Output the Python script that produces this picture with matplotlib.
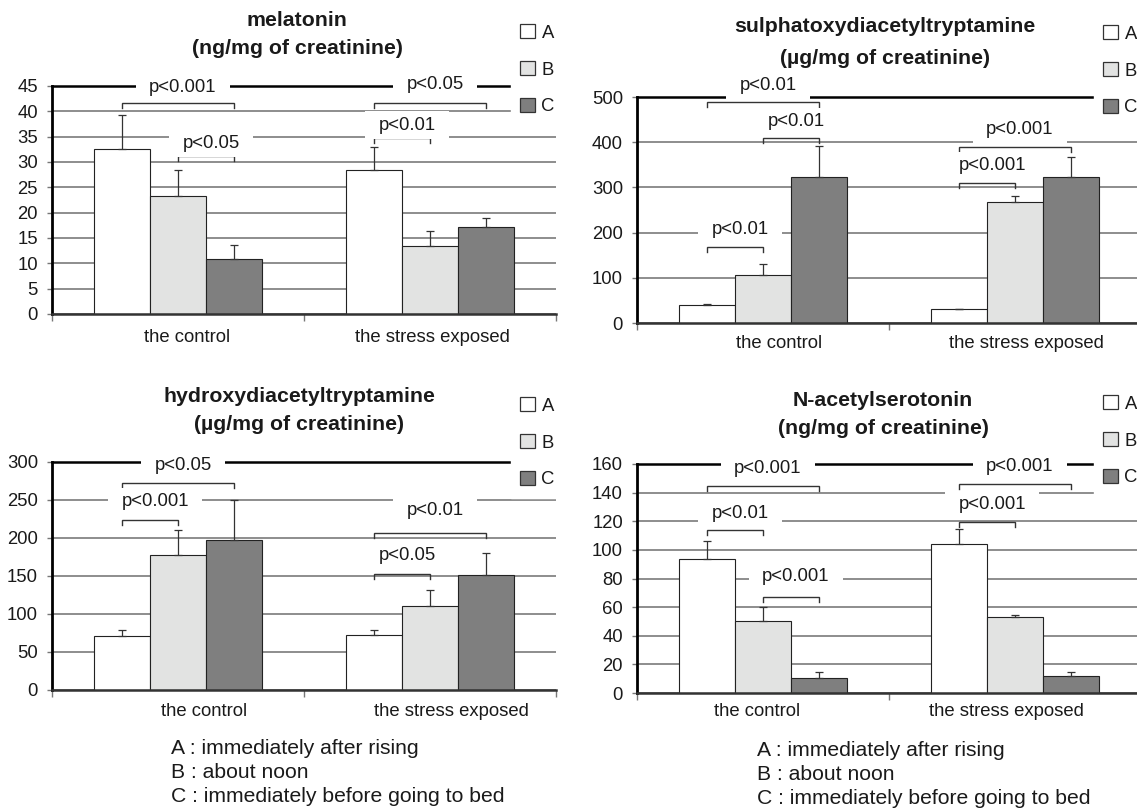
import matplotlib
matplotlib.use('Agg')
import matplotlib.pyplot as plt
from matplotlib.patches import Patch
from matplotlib.path import Path
import numpy as np

plt.rcParams['font.family'] = ['Liberation Sans', 'DejaVu Sans']

W, H = 1137, 809
DPI = 100

# ---------------- data ----------------
groups = ['the control', 'the stress exposed']
series = ['A', 'B', 'C']
series_colors = ['#ffffff', '#e2e3e2', '#7f7f7f']

mel_A = [32.5, 28.5]
mel_A_err = [6.7, 4.5]
mel_B = [23.3, 13.4]
mel_B_err = [5.2, 2.9]
mel_C = [10.8, 17.1]
mel_C_err = [2.9, 1.9]
mel_ticks = [0, 5, 10, 15, 20, 25, 30, 35, 40, 45]

sul_A = [39, 30]
sul_A_err = [3, 1]
sul_B = [107, 268]
sul_B_err = [24, 13]
sul_C = [322, 322]
sul_C_err = [70, 46]
sul_ticks = [0, 100, 200, 300, 400, 500]

hyd_A = [70.5, 72]
hyd_A_err = [8.5, 7]
hyd_B = [178, 111]
hyd_B_err = [33, 21]
hyd_C = [198, 151]
hyd_C_err = [52, 29]
hyd_ticks = [0, 50, 100, 150, 200, 250, 300]

nac_A = [93.4, 104.4]
nac_A_err = [13, 10]
nac_B = [50, 53.3]
nac_B_err = [10, 1.4]
nac_C = [10.7, 11.7]
nac_C_err = [4, 3]
nac_ticks = [0, 20, 40, 60, 80, 100, 120, 140, 160]

# significance annotations: (group, from bar, to bar, bracket level, label, label level)
mel_sig = [(0, 0, 2, 41.7, 'p<0.001', 44.8), (0, 1, 2, 31.1, 'p<0.05', 33.7),
           (1, 0, 2, 41.7, 'p<0.05', 45.3), (1, 0, 1, 34.7, 'p<0.01', 37.3)]
sul_sig = [(0, 0, 2, 489, 'p<0.01', 526), (0, 1, 2, 410, 'p<0.01', 445),
           (0, 0, 1, 169, 'p<0.01', 206), (1, 0, 2, 390, 'p<0.001', 428),
           (1, 0, 1, 310, 'p<0.001', 348)]
hyd_sig = [(0, 0, 2, 272.4, 'p<0.05', 295.6), (0, 0, 1, 224, 'p<0.001', 247.5),
           (1, 0, 2, 206.7, 'p<0.01', 235.7), (1, 0, 1, 153, 'p<0.05', 177)]
nac_sig = [(0, 0, 2, 144.4, 'p<0.001', 157.2), (0, 0, 1, 114, 'p<0.01', 125.7),
           (0, 1, 2, 67.3, 'p<0.001', 81.3), (1, 0, 2, 146.2, 'p<0.001', 158),
           (1, 0, 1, 119.8, 'p<0.001', 131.5)]

footnote = ['A : immediately after rising', 'B : about noon',
            'C : immediately before going to bed']

# ---------------- layout ----------------
FS = 13.3
TFS = 15.3
NFS = 15.2
TXT = '#1a1a1a'
BAR_W = 0.222

panels = [
    dict(rect=(52, 86, 556, 314), title=('melatonin', '(ng/mg of creatinine)'),
         title_xy=(297, 20, 48), vals=(mel_A, mel_B, mel_C),
         errs=(mel_A_err, mel_B_err, mel_C_err), ticks=mel_ticks, sig=mel_sig,
         legend_xy=(511, 15), lab_off=(0.035, 0.01), lab_dy=23),
    dict(rect=(637, 97, 1141, 323), title=('sulphatoxydiacetyltryptamine', '(\u00b5g/mg of creatinine)'),
         title_xy=(885, 27, 58), vals=(sul_A, sul_B, sul_C),
         errs=(sul_A_err, sul_B_err, sul_C_err), ticks=sul_ticks, sig=sul_sig,
         legend_xy=(1094, 16), lab_off=(0.065, 0.045), lab_dy=20),
    dict(rect=(52, 462, 556, 690), title=('hydroxydiacetyltryptamine', '(\u00b5g/mg of creatinine)'),
         title_xy=(299, 397, 424), vals=(hyd_A, hyd_B, hyd_C),
         errs=(hyd_A_err, hyd_B_err, hyd_C_err), ticks=hyd_ticks, sig=hyd_sig,
         legend_xy=(511, 388), lab_off=(0.105, 0.085), lab_dy=22),
    dict(rect=(637, 464, 1141, 693), title=('N-acetylserotonin', '(ng/mg of creatinine)'),
         title_xy=(883, 401, 428), vals=(nac_A, nac_B, nac_C),
         errs=(nac_A_err, nac_B_err, nac_C_err), ticks=nac_ticks, sig=nac_sig,
         legend_xy=(1094, 386), lab_off=(-0.025, -0.035), lab_dy=18),
]
footnote_xy = [((171, 749), 24), ((757, 751), 24)]


def wide_box(x0, y0, width, height, mutation_size):
    px = 0.72 * mutation_size
    py = 0.28 * mutation_size
    x0 -= px
    y0 -= py
    x1 = x0 + width + 2 * px
    y1 = y0 + height + 2 * py
    return Path([(x0, y0), (x1, y0), (x1, y1), (x0, y1), (x0, y0)], closed=True)


fig = plt.figure(figsize=(W / DPI, H / DPI), dpi=DPI)
fig.patch.set_facecolor('white')

for p in panels:
    l, t, r, b = p['rect']
    ax = fig.add_axes([l / W, 1 - b / H, (r - l) / W, (b - t) / H])
    ymax = p['ticks'][-1]
    ax_h = b - t
    x_idx = np.arange(len(groups))

    for i, (vals, errs) in enumerate(zip(p['vals'], p['errs'])):
        xs = x_idx + (i - 1) * BAR_W
        ax.bar(xs, vals, width=BAR_W, color=series_colors[i], edgecolor='#222222',
               linewidth=0.8, zorder=2)
        ax.errorbar(xs, vals, yerr=[np.zeros(len(vals)), errs], fmt='none',
                    ecolor='#333333', elinewidth=0.9, capsize=3.2, capthick=0.9,
                    zorder=3)

    ax.set_xlim(-0.5, len(groups) - 0.5)
    ax.set_ylim(0, ymax)
    ax.set_yticks(p['ticks'])
    ax.set_yticklabels([str(v) for v in p['ticks']])
    ax.yaxis.grid(True, color='#858585', linewidth=1.3)
    ax.set_axisbelow(True)
    ax.axhline(ymax, color='black', linewidth=1.8, zorder=1.5, clip_on=False)

    ax.set_xticks(np.arange(len(groups) + 1) - 0.5)
    ax.set_xticklabels([])
    ax.tick_params(axis='x', direction='out', length=5, width=1, color='#777777')
    ax.tick_params(axis='y', direction='out', length=3.6, width=1, color='#777777',
                   labelsize=FS, pad=6.5, labelcolor=TXT)
    for s in ['top', 'right']:
        ax.spines[s].set_visible(False)
    ax.spines['left'].set_color('black')
    ax.spines['left'].set_linewidth(2)
    ax.spines['bottom'].set_color('#333333')
    ax.spines['bottom'].set_linewidth(1.8)
    ax.spines['left'].set_zorder(3)
    ax.spines['bottom'].set_zorder(3)

    for g, lab in enumerate(groups):
        ax.annotate(lab, xy=(g + p['lab_off'][g], 0), xycoords=('data', 'axes fraction'),
                    xytext=(0, -p['lab_dy']), textcoords='offset pixels',
                    ha='center', va='center', fontsize=FS, color=TXT,
                    annotation_clip=False)

    leg = 5 * ymax / ax_h
    for g, i0, i1, yb, txt, yt in p['sig']:
        x0 = g + (i0 - 1) * BAR_W
        x1 = g + (i1 - 1) * BAR_W
        ax.plot([x0, x0, x1, x1], [yb - leg, yb, yb, yb - leg], color='#333333',
                linewidth=1.0, zorder=4, clip_on=False, solid_joinstyle='miter')
        ax.text((x0 + x1) / 2 + 0.02, yt, txt, ha='center', va='center', fontsize=FS,
                color=TXT, zorder=5, clip_on=False,
                bbox=dict(boxstyle=wide_box, facecolor='white', edgecolor='none'))

    tx, ty1, ty2 = p['title_xy']
    fig.text(tx / W, 1 - ty1 / H, p['title'][0], ha='center', va='center',
             fontsize=TFS, fontweight='bold', color=TXT)
    fig.text(tx / W, 1 - ty2 / H, p['title'][1], ha='center', va='center',
             fontsize=TFS, fontweight='bold', color=TXT)

    handles = [Patch(facecolor=c, edgecolor='#333333', linewidth=0.9, label=s)
               for c, s in zip(series_colors, series)]
    lx, ly = p['legend_xy']
    fig.legend(handles=handles, loc='upper left', bbox_to_anchor=(lx / W, 1 - ly / H),
               bbox_transform=fig.transFigure, frameon=True, facecolor='white',
               edgecolor='white', framealpha=1, fancybox=False, fontsize=FS,
               handlelength=0.8, handleheight=0.8, handletextpad=0.35,
               labelspacing=1.05, borderpad=0.5, borderaxespad=0, labelcolor=TXT)

for (fx, fy), dy in footnote_xy:
    for k, line in enumerate(footnote):
        fig.text(fx / W, 1 - (fy + k * dy) / H, line, ha='left', va='center',
                 fontsize=NFS, color=TXT)

fig.savefig('out.png', dpi=DPI, facecolor='white')
